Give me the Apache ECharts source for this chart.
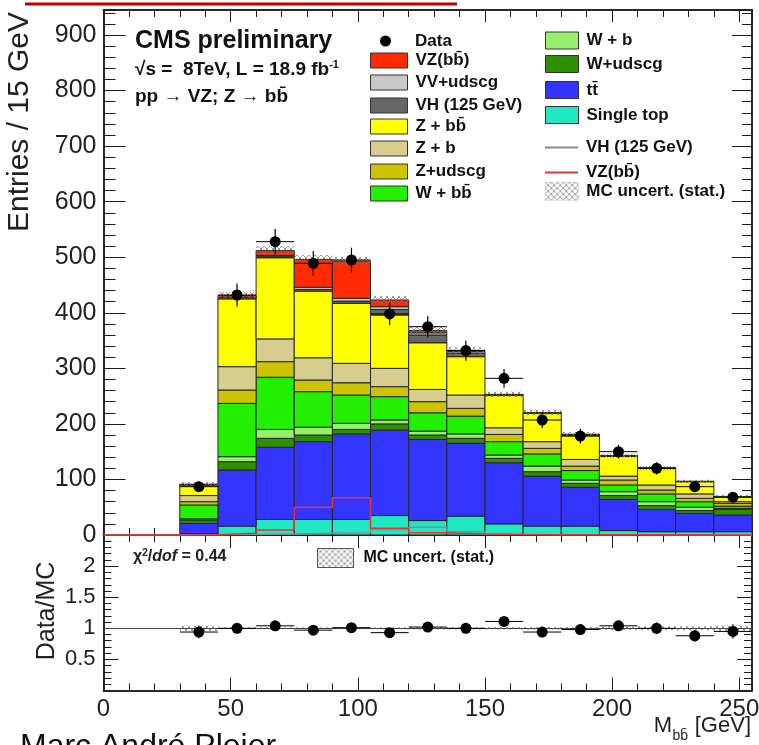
<!DOCTYPE html>
<html>
<head>
<meta charset="utf-8">
<script src="https://cdn.jsdelivr.net/npm/echarts@6.0.0/dist/echarts.min.js"></script>
<style>
html,body{margin:0;padding:0;background:#ffffff;}
#chart{width:759px;height:745px;}
</style>
</head>
<body>
<div id="chart"></div>
<script>
// ---------------- data (15 GeV bins, low edges) ----------------
const binLow    = [0, 15, 30, 45, 60, 75, 90, 105, 120, 135, 150, 165, 180, 195, 210, 225, 240];
const binWidth  = 15;
const singleTop = [0, 0, 2, 16, 28, 28, 28, 35, 26, 34, 20, 16, 16, 8, 6, 6, 6];
const ttbar     = [0, 0, 19, 101, 130, 140, 154, 154, 146, 131, 110, 90, 70, 56, 40, 33, 30];
const wUdscg    = [0, 0, 6, 15, 16, 12, 8, 11, 8, 9, 8, 8, 7, 7, 7, 5, 10];
const wB        = [0, 0, 2, 9, 16, 14, 11, 7, 7, 8, 6, 10, 6, 7, 7, 6, 2];
const wBB       = [0, 0, 25, 96, 94, 64, 51, 42, 33, 32, 24, 22, 17, 12, 14, 10, 4];
const zUdscg    = [0, 0, 6, 24, 28, 21, 22, 18, 20, 14, 13, 10, 8, 9, 7, 6, 5];
const zB        = [0, 0, 11, 42, 41, 40, 35, 33, 22, 24, 12, 12, 12, 7, 9, 8, 3];
const zBB       = [0, 0, 19, 122, 146, 120, 108, 96, 84, 69, 58, 51, 44, 36, 30, 22, 9];
const vh125     = [0, 0, 0.3, 1, 2, 3, 4, 10, 14, 6, 0.7, 0.5, 0.4, 0.3, 0.2, 0.2, 0.1];
const vvUdscg   = [0, 0, 0.7, 2, 2, 4, 5, 5, 4, 3, 0.5, 0.5, 0.4, 0.3, 0.2, 0.2, 0.1];
const vzBB      = [0, 0, 0.3, 3, 9, 50, 67, 12, 4, 2, 1, 0.5, 0.5, 0.3, 0.3, 0.2, 0.2];
const dataCounts = [null, null, 87, 432, 528, 489, 495, 398, 375, 332, 282, 207, 178, 150, 120, 87, 68];
const dataMCRatio = [null, null, 0.94, 1.00, 1.04, 0.97, 1.01, 0.93, 1.02, 1.00, 1.11, 0.94, 0.98, 1.04, 1.00, 0.88, 0.95];
const mcStatUnc  = [0, 0, 4, 7, 8, 8, 8, 7, 7, 6, 5, 5, 4, 4, 4, 3, 3];
const ratioReference = 1;
const xRange = [0, 255];
const yRangeMain = [0, 945];
const yRangeRatio = [0, 2.5];

// ---------------- helpers ----------------
const FONT = 'Liberation Sans';
const AX = '#1a1a1a';

const hatch = document.createElement('canvas');
hatch.width = 6; hatch.height = 6;
(function(){
  const g = hatch.getContext('2d');
  g.strokeStyle = 'rgba(110,110,110,0.85)';
  g.lineWidth = 0.8;
  g.beginPath(); g.moveTo(0,0); g.lineTo(6,6); g.moveTo(6,0); g.lineTo(0,6); g.stroke();
})();
const hatchFill = {image: hatch, repeat: 'repeat'};

const components = [
  {name: 'Single top',   values: singleTop, color: '#1fe8c2'},
  {name: 't t\u0304',    values: ttbar,     color: '#3434ff'},
  {name: 'W+udscg',      values: wUdscg,    color: '#2f8f00'},
  {name: 'W + b',        values: wB,        color: '#96f06c'},
  {name: 'W + bb\u0304', values: wBB,       color: '#22f000'},
  {name: 'Z+udscg',      values: zUdscg,    color: '#ccc400'},
  {name: 'Z + b',        values: zB,        color: '#d5ce8e'},
  {name: 'Z + bb\u0304', values: zBB,       color: '#ffff00'},
  {name: 'VH (125 GeV)', values: vh125,     color: '#666666'},
  {name: 'VV+udscg',     values: vvUdscg,   color: '#c8c8c8'},
  {name: 'VZ(bb\u0304)', values: vzBB,      color: '#ff2a00'}
];

function bandRenderer(color){
  return function(params, api){
    const x0 = api.value(0), x1 = api.value(1), y0 = api.value(2), y1 = api.value(3);
    if (!(y1 > y0)) return null;
    const a = api.coord([x0, y1]), b = api.coord([x1, y0]);
    return {type: 'rect', shape: {x: a[0], y: a[1], width: b[0]-a[0], height: b[1]-a[1]},
            style: {fill: color, stroke: '#262626', lineWidth: 1}};
  };
}

const cumulative = binLow.map(() => 0);
const stackSeries = components.map(c => {
  const rows = binLow.map((x, i) => {
    const base = cumulative[i];
    cumulative[i] += c.values[i];
    return [x, x + binWidth, base, cumulative[i]];
  });
  return {type: 'custom', name: c.name, xAxisIndex: 0, yAxisIndex: 0, z: 2, clip: true,
          itemStyle: {color: c.color}, encode: {x: [0, 1], y: [2, 3]},
          data: rows, renderItem: bandRenderer(c.color)};
});
const totals = cumulative.slice();

function stepPoints(vals){
  const pts = binLow.map((x, i) => [x, vals[i]]);
  pts.push([binLow[binLow.length-1] + binWidth, vals[vals.length-1]]);
  return pts;
}

function hatchRenderer(params, api){
  const x0 = api.value(0), x1 = api.value(1), y0 = api.value(2), y1 = api.value(3);
  const a = api.coord([x0, y1]), b = api.coord([x1, y0]);
  return {type: 'rect', shape: {x: a[0], y: a[1], width: b[0]-a[0], height: Math.max(1, b[1]-a[1])},
          style: {fill: hatchFill, stroke: null}};
}

function errRenderer(params, api){
  const xc = api.value(0), y = api.value(1), e = api.value(2);
  const l = api.coord([xc - binWidth/2, y]), r = api.coord([xc + binWidth/2, y]);
  const t = api.coord([xc, y + e]), bt = api.coord([xc, y - e]);
  return {type: 'group', children: [
    {type: 'line', shape: {x1: l[0], y1: l[1], x2: r[0], y2: r[1]}, style: {stroke: '#000', lineWidth: 1}},
    {type: 'line', shape: {x1: t[0], y1: t[1], x2: bt[0], y2: bt[1]}, style: {stroke: '#000', lineWidth: 1.2}}
  ]};
}

const centers = binLow.map(x => x + binWidth/2);
const dataPts = [], dataErr = [], ratioPts = [], ratioErr = [], mcBand = [], mcRatioBand = [];
binLow.forEach((x, i) => {
  if (dataCounts[i] != null) {
    dataPts.push([centers[i], dataCounts[i]]);
    dataErr.push([centers[i], dataCounts[i], Math.sqrt(dataCounts[i])]);
    ratioPts.push([centers[i], dataMCRatio[i]]);
    ratioErr.push([centers[i], dataMCRatio[i], dataMCRatio[i] / Math.sqrt(dataCounts[i])]);
  }
  if (totals[i] > 0) {
    mcBand.push([x, x + binWidth, totals[i] - mcStatUnc[i], totals[i] + mcStatUnc[i]]);
    const rel = mcStatUnc[i] / totals[i];
    mcRatioBand.push([x, x + binWidth, ratioReference - rel, ratioReference + rel]);
  }
});

// ---------------- axes ----------------
function xAxis(grid, pos, interval, len, labels){
  return {type: 'value', gridIndex: grid, position: pos, min: xRange[0], max: xRange[1], interval: interval,
    axisLine: {show: true, onZero: false, lineStyle: {color: AX, width: 1.5}},
    axisTick: {show: true, inside: true, length: len, lineStyle: {color: AX, width: 1}},
    axisLabel: {show: labels, fontFamily: FONT, fontSize: 24, color: '#222', margin: 7},
    splitLine: {show: false}, minorTick: {show: false}};
}
function yAxis(grid, pos, range, interval, len, labels, fs, margin){
  return {type: 'value', gridIndex: grid, position: pos, min: range[0], max: range[1], interval: interval,
    axisLine: {show: true, onZero: false, lineStyle: {color: AX, width: 1.5}},
    axisTick: {show: true, inside: true, length: len, lineStyle: {color: AX, width: 1}},
    axisLabel: {show: labels, fontFamily: FONT, fontSize: fs || 24, color: '#222', margin: margin || 7,
                showMinLabel: grid === 0, showMaxLabel: false},
    splitLine: {show: false}, minorTick: {show: false}};
}

// ---------------- legends ----------------
const LEG_TEXT = {fontFamily: FONT, fontWeight: 'bold', fontSize: 17, color: '#111'};
function leg(name, left, top, w, h, icon, itemStyle, label, textOpts){
  return {show: true, left: left, top: top, orient: 'vertical', padding: 0, itemWidth: w, itemHeight: h, itemGap: 0,
    data: [{name: name, icon: icon, itemStyle: itemStyle}],
    textStyle: Object.assign({}, LEG_TEXT, textOpts || {}),
    formatter: label ? (() => label) : '{name}'};
}
const byName = {};
components.forEach(c => byName[c.name] = c.color);
function boxStyle(n){ return {color: byName[n], borderColor: '#333', borderWidth: 1}; }

const legends = [
  leg('Data', 380, 32.5, 37, 11, 'circle', {color: '#000', opacity: 1}, null, {padding: [0,0,0,6]}),
  leg('VZ(bb\u0304)', 370, 52, 37, 15, 'rect', boxStyle('VZ(bb\u0304)'), null, {padding: [0,0,0,3]}),
  leg('VV+udscg', 370, 74, 37, 15, 'rect', boxStyle('VV+udscg'), null, {padding: [0,0,0,3]}),
  leg('VH (125 GeV)', 370, 97, 37, 15, 'rect', boxStyle('VH (125 GeV)'), null, {padding: [0,0,0,3]}),
  leg('Z + bb\u0304', 370, 118, 37, 15, 'rect', boxStyle('Z + bb\u0304'), null, {padding: [0,0,0,3]}),
  leg('Z + b', 370, 140, 37, 15, 'rect', boxStyle('Z + b'), null, {padding: [0,0,0,3]}),
  leg('Z+udscg', 370, 163, 37, 15, 'rect', boxStyle('Z+udscg'), null, {padding: [0,0,0,3]}),
  leg('W + bb\u0304', 370, 185, 37, 15, 'rect', boxStyle('W + bb\u0304'), null, {padding: [0,0,0,3]}),
  leg('W + b', 545, 31.5, 33, 17, 'rect', boxStyle('W + b'), null, {padding: [0,0,0,3]}),
  leg('W+udscg', 545, 55, 33, 17, 'rect', boxStyle('W+udscg'), null, {padding: [0,0,0,3]}),
  leg('t t\u0304', 545, 81, 33, 17, 'rect', boxStyle('t t\u0304'), 'tt\u0304', {padding: [0,0,0,3]}),
  leg('Single top', 545, 106, 33, 17, 'rect', boxStyle('Single top'), null, {padding: [0,0,0,3]}),
  leg('VH line', 545, 139, 33, 2, 'rect', {color: '#8a8a8a'}, 'VH (125 GeV)', {padding: [0,0,0,3]}),
  leg('VZ line', 545, 164, 33, 2, 'rect', {color: '#ee3030'}, 'VZ(bb\u0304)', {padding: [0,0,0,3]}),
  leg('MC uncert. (stat.)', 545, 182, 33, 18, 'rect', {color: hatchFill, borderColor: '#bbb', borderWidth: 0.5}, null, {padding: [0,0,0,3]}),
  leg('MC ratio band', 317, 548, 36, 19, 'rect', {color: hatchFill, borderColor: '#555', borderWidth: 1}, 'MC uncert. (stat.)', {fontSize: 16, padding: [0,0,0,5]})
];

// ---------------- texts ----------------
const graphics = [
  {type: 'line', shape: {x1: 25, y1: 4, x2: 457, y2: 4}, style: {stroke: '#c00000', lineWidth: 3}, z: 100},
  {type: 'text', x: 135, y: 41, style: {text: 'CMS preliminary', fontFamily: FONT, fontWeight: 'bold', fontSize: 25, fill: '#111', verticalAlign: 'middle'}},
  {type: 'text', x: 135, y: 70, style: {text: '{a|\u221As =  8TeV, L = 18.9 fb}{s|-1}', verticalAlign: 'middle',
      rich: {a: {fontFamily: FONT, fontWeight: 'bold', fontSize: 19, fill: '#111', lineHeight: 21},
             s: {fontFamily: FONT, fontWeight: 'bold', fontSize: 11, fill: '#111', lineHeight: 11, verticalAlign: 'top'}}}},
  {type: 'text', x: 135, y: 97, style: {text: 'pp \u2192 VZ; Z \u2192 bb\u0304', fontFamily: FONT, fontWeight: 'bold', fontSize: 19, fill: '#111', verticalAlign: 'middle'}},
  {type: 'text', x: 20, y: 122, rotation: Math.PI/2, style: {text: 'Entries / 15 GeV', fontFamily: FONT, fontSize: 30, fill: '#222', align: 'center', verticalAlign: 'middle'}},
  {type: 'text', x: 47, y: 611, rotation: Math.PI/2, style: {text: 'Data/MC', fontFamily: FONT, fontSize: 25, fill: '#222', align: 'center', verticalAlign: 'middle'}},
  {type: 'text', x: 751, y: 726, style: {text: ' [GeV]', fontFamily: FONT, fontSize: 22, fill: '#222', align: 'right', verticalAlign: 'middle'}},
  {type: 'text', x: 688, y: 736, style: {text: 'bb\u0304', fontFamily: FONT, fontSize: 14, fill: '#222', align: 'right', verticalAlign: 'middle'}},
  {type: 'text', x: 672, y: 726, style: {text: 'M', fontFamily: FONT, fontSize: 22, fill: '#222', align: 'right', verticalAlign: 'middle'}},
  {type: 'text', x: 133, y: 557, style: {text: '{a|\u03C7}{s|2}{a|/}{i|dof}{a| = 0.44}', verticalAlign: 'middle',
      rich: {a: {fontFamily: FONT, fontWeight: 'bold', fontSize: 16, fill: '#222', lineHeight: 18},
             i: {fontFamily: FONT, fontWeight: 'bold', fontStyle: 'italic', fontSize: 16, fill: '#222', lineHeight: 18},
             s: {fontFamily: FONT, fontWeight: 'bold', fontSize: 10, fill: '#222', lineHeight: 10, verticalAlign: 'top'}}}},
  {type: 'text', x: 20, y: 731, style: {text: 'Marc Andr\u00e9 Pleier', fontFamily: FONT, fontSize: 32, fill: '#111', verticalAlign: 'top'}}
];

// ---------------- series ----------------
const series = stackSeries.concat([
  {type: 'line', name: 'VH line', xAxisIndex: 0, yAxisIndex: 0, step: 'end', symbol: 'none', z: 3,
   data: stepPoints(vh125), lineStyle: {color: '#8a8a8a', width: 1.5}, itemStyle: {color: '#8a8a8a'}},
  {type: 'line', name: 'VZ line', xAxisIndex: 0, yAxisIndex: 0, step: 'end', symbol: 'none', z: 3,
   data: stepPoints(vzBB), lineStyle: {color: '#ee3030', width: 1.5}, itemStyle: {color: '#ee3030'}},
  {type: 'custom', name: 'MC uncert. (stat.)', xAxisIndex: 0, yAxisIndex: 0, z: 4, itemStyle: {color: '#999'},
   encode: {x: [0, 1], y: [2, 3]}, data: mcBand, renderItem: hatchRenderer},
  {type: 'custom', name: 'Data errors', xAxisIndex: 0, yAxisIndex: 0, z: 5, itemStyle: {color: '#000'},
   encode: {x: 0, y: 1}, data: dataErr, renderItem: errRenderer},
  {type: 'scatter', name: 'Data', xAxisIndex: 0, yAxisIndex: 0, z: 6, symbol: 'circle', symbolSize: 11,
   itemStyle: {color: '#000', opacity: 1}, data: dataPts},
  {type: 'custom', name: 'MC ratio band', xAxisIndex: 4, yAxisIndex: 4, z: 4, itemStyle: {color: '#999'},
   encode: {x: [0, 1], y: [2, 3]}, data: mcRatioBand, renderItem: hatchRenderer},
  {type: 'custom', name: 'Ratio errors', xAxisIndex: 4, yAxisIndex: 4, z: 5, itemStyle: {color: '#000'},
   encode: {x: 0, y: 1}, data: ratioErr, renderItem: errRenderer},
  {type: 'scatter', name: 'Data/MC', xAxisIndex: 4, yAxisIndex: 4, z: 6, symbol: 'circle', symbolSize: 11,
   itemStyle: {color: '#000', opacity: 1}, data: ratioPts,
   markLine: {silent: true, symbol: 'none', label: {show: false}, lineStyle: {color: '#444', type: 'solid', width: 1},
              data: [{yAxis: ratioReference}]}}
]);

const option = {
  animation: false,
  backgroundColor: '#ffffff',
  grid: [
    {left: 103.5, top: 10, right: 7, height: 525, containLabel: false, outerBoundsMode: 'none'},
    {left: 103.5, top: 535, right: 7, height: 155.5, containLabel: false, outerBoundsMode: 'none'}
  ],
  xAxis: [
    xAxis(0, 'bottom', 50, 12, false), xAxis(0, 'bottom', 10, 7, false),
    xAxis(0, 'top', 50, 12, false),    xAxis(0, 'top', 10, 7, false),
    xAxis(1, 'bottom', 50, 13, true),  xAxis(1, 'bottom', 10, 7, false),
    xAxis(1, 'top', 50, 13, false),    xAxis(1, 'top', 10, 7, false)
  ],
  yAxis: [
    yAxis(0, 'left', yRangeMain, 100, 22, true, 25, 7), yAxis(0, 'left', yRangeMain, 20, 12, false),
    yAxis(0, 'right', yRangeMain, 100, 20, false),      yAxis(0, 'right', yRangeMain, 20, 10, false),
    yAxis(1, 'left', yRangeRatio, 0.5, 15, true, 22, 8), yAxis(1, 'left', yRangeRatio, 0.1, 8, false),
    yAxis(1, 'right', yRangeRatio, 0.5, 15, false),      yAxis(1, 'right', yRangeRatio, 0.1, 8, false)
  ],
  legend: legends,
  graphic: graphics,
  series: series
};

const chart = echarts.init(document.getElementById('chart'), null, {renderer: 'canvas', width: 759, height: 745});
chart.setOption(option);
</script>
</body>
</html>
